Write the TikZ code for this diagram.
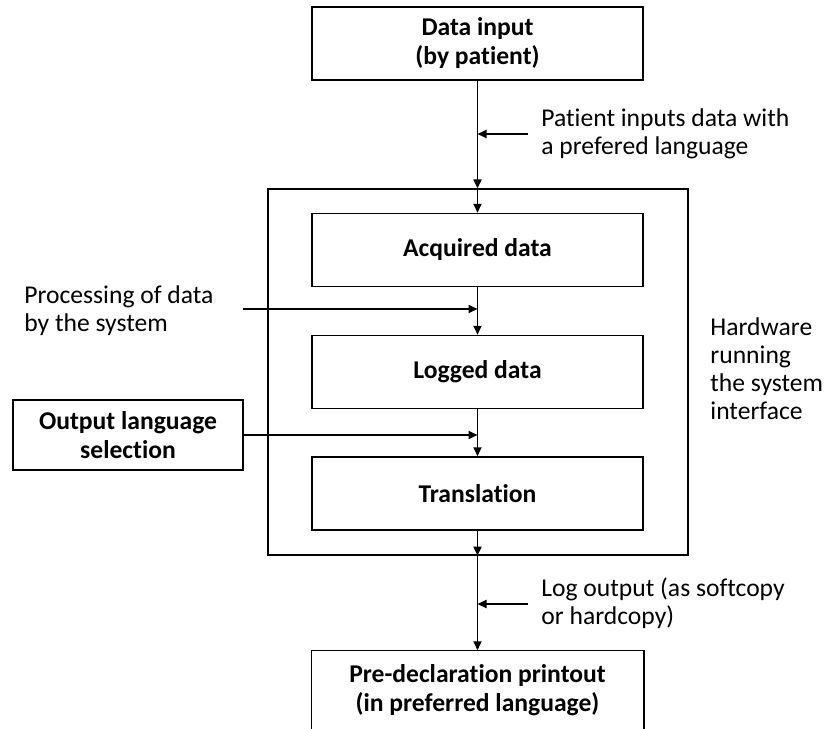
\documentclass[tikz,border=0pt]{standalone}
\usepackage{fontspec}
\setmainfont{Carlito}[Ligatures=NoCommon]
\usetikzlibrary{arrows.meta,positioning}

\begin{document}
\begin{tikzpicture}[
  x=0.5pt, y=-0.5pt,
  >=Triangle,
  stage/.style={draw, line width=0.75pt, align=center, minimum width=165.5pt, minimum height=36.5pt, inner sep=0pt, font=\fontsize{12.8}{14.5}\selectfont\bfseries},
  frame/.style={draw, line width=0.6pt, minimum width=210pt, minimum height=183pt, inner sep=0pt},
  note/.style={align=left, anchor=west, inner sep=0pt, font=\fontsize{12.8}{14}\selectfont},
  flow/.style={->, line width=0.95pt, >={Triangle[length=4.5pt,width=4pt]}}
]
\useasboundingbox (0,0) rectangle (832,729);

% main chain
\node[stage] (input) at (477.5,43.5) {Data input\\(by patient)};
\node[frame] (hw) at (478,372) {};
\node[stage] (acquired) at (477.5,250) {Acquired data};
\node[stage] (logged) at (477.5,372) {Logged data};
\node[stage] (translation) at (477.5,493.5) {Translation};
\node[stage, draw=none, minimum height=39pt] (output) at (477.5,690) {Pre-declaration printout\\(in preferred language)};
\draw[line width=0.75pt] (output.south west) |- (output.north east) -- (output.south east);
\node[stage, minimum width=115pt, minimum height=35pt] (outsel) at (128,435) {Output language\\selection};

% side notes
\node[note] (patnote) at (541,134) {Patient inputs data with\\a prefered language};
\node[note] (procnote) at (24,311) {Processing of data\\by the system};
\node[note] (hwnote) at (710,369) {Hardware\\running\\the system\\interface};
\node[note] (lognote) at (541,603) {Log output (as softcopy\\or hardcopy)};

\coordinate (patin) at (528,134);
\coordinate (procin) at (243,309);
\coordinate (login) at (528,604);

\draw[flow] (input.south) -- (acquired.north |- hw.north);
\draw[flow] (acquired.north |- hw.north) -- (acquired.north);
\draw[flow] (acquired) -- (logged);
\draw[flow] (logged) -- (translation);
\draw[flow] (translation.south) -- (translation.south |- hw.south);
\draw[flow] (translation.south |- hw.south) -- (output.north);

\draw[flow] (patin) -- (patin -| input.south);
\draw[flow] (procin) -- (procin -| acquired.south);
\draw[flow] (outsel.east) -- (outsel.east -| logged.south);
\draw[flow] (login) -- (login -| output.north);
\end{tikzpicture}
\end{document}
